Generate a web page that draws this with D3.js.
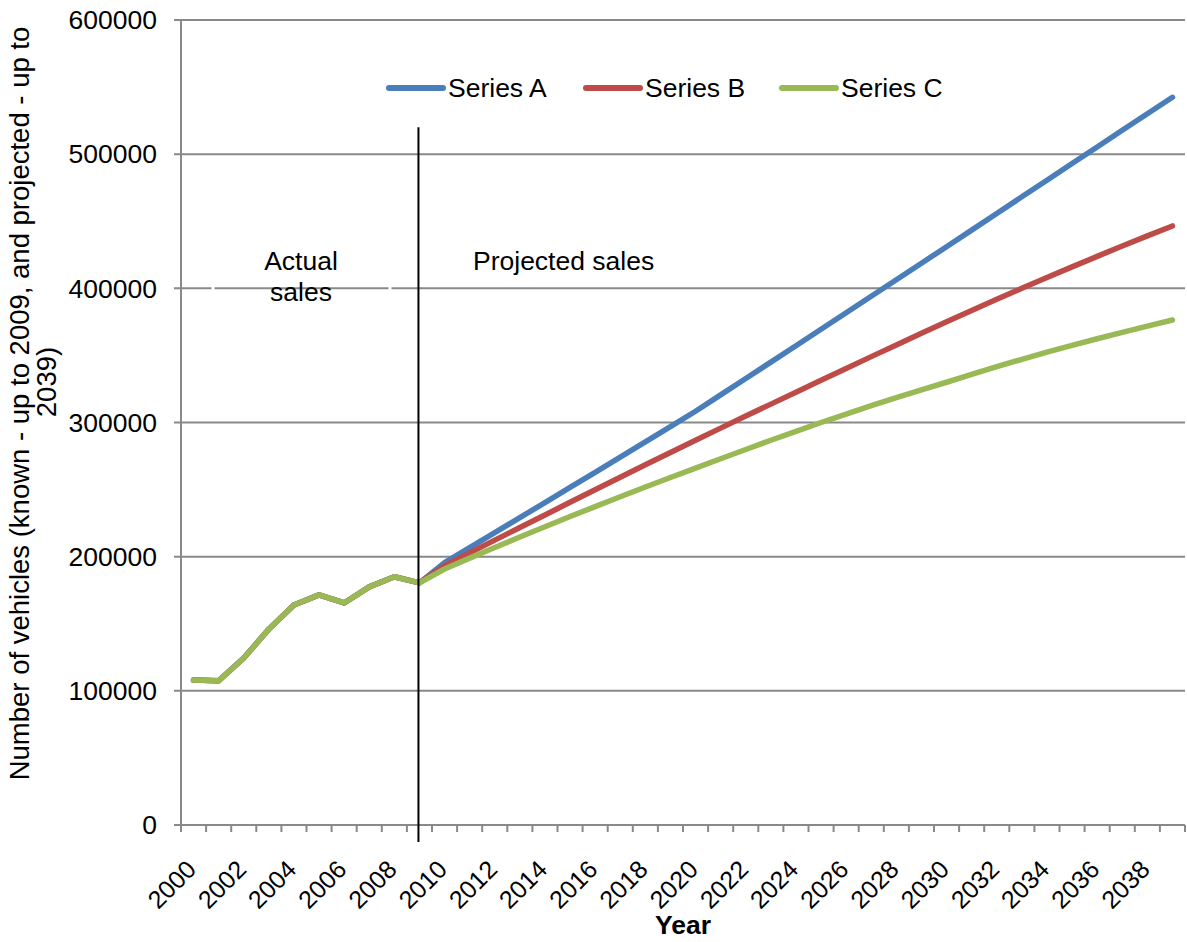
<!DOCTYPE html>
<html><head><meta charset="utf-8">
<script src="https://cdn.jsdelivr.net/npm/d3@7"></script>
<style>body{margin:0;background:#fff} text{font-family:"Liberation Sans",Arial,sans-serif;fill:#000}</style>
</head><body><svg id="c" width="1187" height="942"></svg>
<script>
const years = [2000,2001,2002,2003,2004,2005,2006,2007,2008,2009,2010,2011,2012,2013,2014,2015,2016,2017,2018,2019,
               2020,2021,2022,2023,2024,2025,2026,2027,2028,2029,2030,2031,2032,2033,2034,2035,2036,2037,2038,2039];
const actualSales = [108000,107500,124500,146000,164000,171500,165500,177500,185000,180500];
const projA = [195500,206700,217900,229100,240300,251600,262900,274200,285500,296900,
               308400,320600,332800,345000,357200,369500,381800,394100,406400,418700,
               431000,443400,455800,468200,480600,493000,505400,517800,530100,542400];
const projB = [193300,202800,212300,221700,231100,240500,249900,259200,268500,277700,
               286800,295800,304800,313700,322600,331500,340300,349100,357800,366500,
               375100,383500,391800,400000,408100,416000,423800,431500,439100,446500];
const projC = [190800,198900,206800,214600,222300,229900,237300,244700,251900,259000,
               266000,273000,279900,286800,293400,300000,306300,312500,318500,324300,
               330000,335900,341600,347100,352400,357500,362400,367200,371800,376400];
const seriesNames = ["Series A","Series B","Series C"];
const seriesColors = ["#4A7EBB","#BE4B48","#98B954"];
const yTicks = [0,100000,200000,300000,400000,500000,600000];
const xLabelYears = years.filter(y => y % 2 === 0);
const splitYear = 2009;

const seriesValues = [actualSales.concat(projA), actualSales.concat(projB), actualSales.concat(projC)];

const svg = d3.select("#c");
const L = 181, R = 1185, T = 20, B = 825;
const FS = 26.5;
const x = d3.scaleBand().domain(years).range([L, R]).paddingInner(0).paddingOuter(0);
const xc = d => x(d) + x.bandwidth() / 2;
const y = d3.scaleLinear().domain([0, 600000]).range([B, T]);
const gridColor = "#898989";

// gridlines
svg.append("g").selectAll("line").data(yTicks).join("line")
  .attr("x1", L - 7).attr("x2", R).attr("y1", d => y(d)).attr("y2", d => y(d))
  .attr("stroke", gridColor).attr("stroke-width", 2);

// y axis line
svg.append("line").attr("x1", L).attr("x2", L).attr("y1", T).attr("y2", B)
  .attr("stroke", gridColor).attr("stroke-width", 2);

// y tick labels
svg.append("g").selectAll("text").data(yTicks).join("text")
  .attr("x", 157).attr("y", d => y(d)).attr("dy", "0.35em")
  .attr("text-anchor", "end").attr("font-size", FS).text(d => d);

// x ticks at category boundaries
const bounds = years.map(d => x(d)).concat([R]);
svg.append("g").selectAll("line").data(bounds).join("line")
  .attr("x1", d => d).attr("x2", d => d).attr("y1", B).attr("y2", B + 7)
  .attr("stroke", gridColor).attr("stroke-width", 2);

// x labels
svg.append("g").selectAll("text").data(xLabelYears).join("text")
  .attr("transform", d => `translate(${xc(d) + 4},871) rotate(-45)`)
  .attr("text-anchor", "end").attr("font-size", 25).text(d => d);

// axis titles
svg.append("text").attr("x", 683).attr("y", 934).attr("text-anchor", "middle")
  .attr("font-size", FS).attr("font-weight", "bold").text("Year");
svg.append("text").attr("transform", "translate(29,403.5) rotate(-90)").attr("text-anchor", "middle")
  .attr("font-size", 27.5).text("Number of vehicles (known - up to 2009, and projected - up to");
svg.append("text").attr("transform", "translate(56,382) rotate(-90)").attr("text-anchor", "middle")
  .attr("font-size", 27.5).text("2039)");

// annotation box + text
svg.append("rect").attr("x", 213).attr("y", 236).attr("width", 177).attr("height", 78)
  .attr("fill", "none").attr("stroke", "#fff").attr("stroke-width", 3);
svg.append("text").attr("x", 301).attr("y", 270).attr("text-anchor", "middle").attr("font-size", FS).text("Actual");
svg.append("text").attr("x", 301).attr("y", 301).attr("text-anchor", "middle").attr("font-size", FS).text("sales");
svg.append("text").attr("x", 473).attr("y", 270).attr("font-size", FS).text("Projected sales");

// lines
const line = d3.line().x((d, i) => xc(years[i])).y(d => y(d));
svg.append("g").selectAll("path").data(seriesValues).join("path")
  .attr("d", d => line(d)).attr("fill", "none")
  .attr("stroke", (d, i) => seriesColors[i]).attr("stroke-width", 5.5)
  .attr("stroke-linejoin", "round").attr("stroke-linecap", "round");

// split line
svg.append("line").attr("x1", xc(splitYear) - 1).attr("x2", xc(splitYear) - 1)
  .attr("y1", y(520000)).attr("y2", B + 17).attr("stroke", "#000").attr("stroke-width", 2);

// legend
const legX = [389, 586, 782];
const lg = svg.append("g").selectAll("g").data(seriesNames).join("g")
  .attr("transform", (d, i) => `translate(${legX[i]},88)`);
lg.append("line").attr("x1", 0).attr("x2", 54).attr("y1", 0).attr("y2", 0)
  .attr("stroke", (d, i) => seriesColors[i]).attr("stroke-width", 6).attr("stroke-linecap", "round");
lg.append("text").attr("x", 59).attr("y", 9).attr("font-size", FS).text(d => d);
</script></body></html>
